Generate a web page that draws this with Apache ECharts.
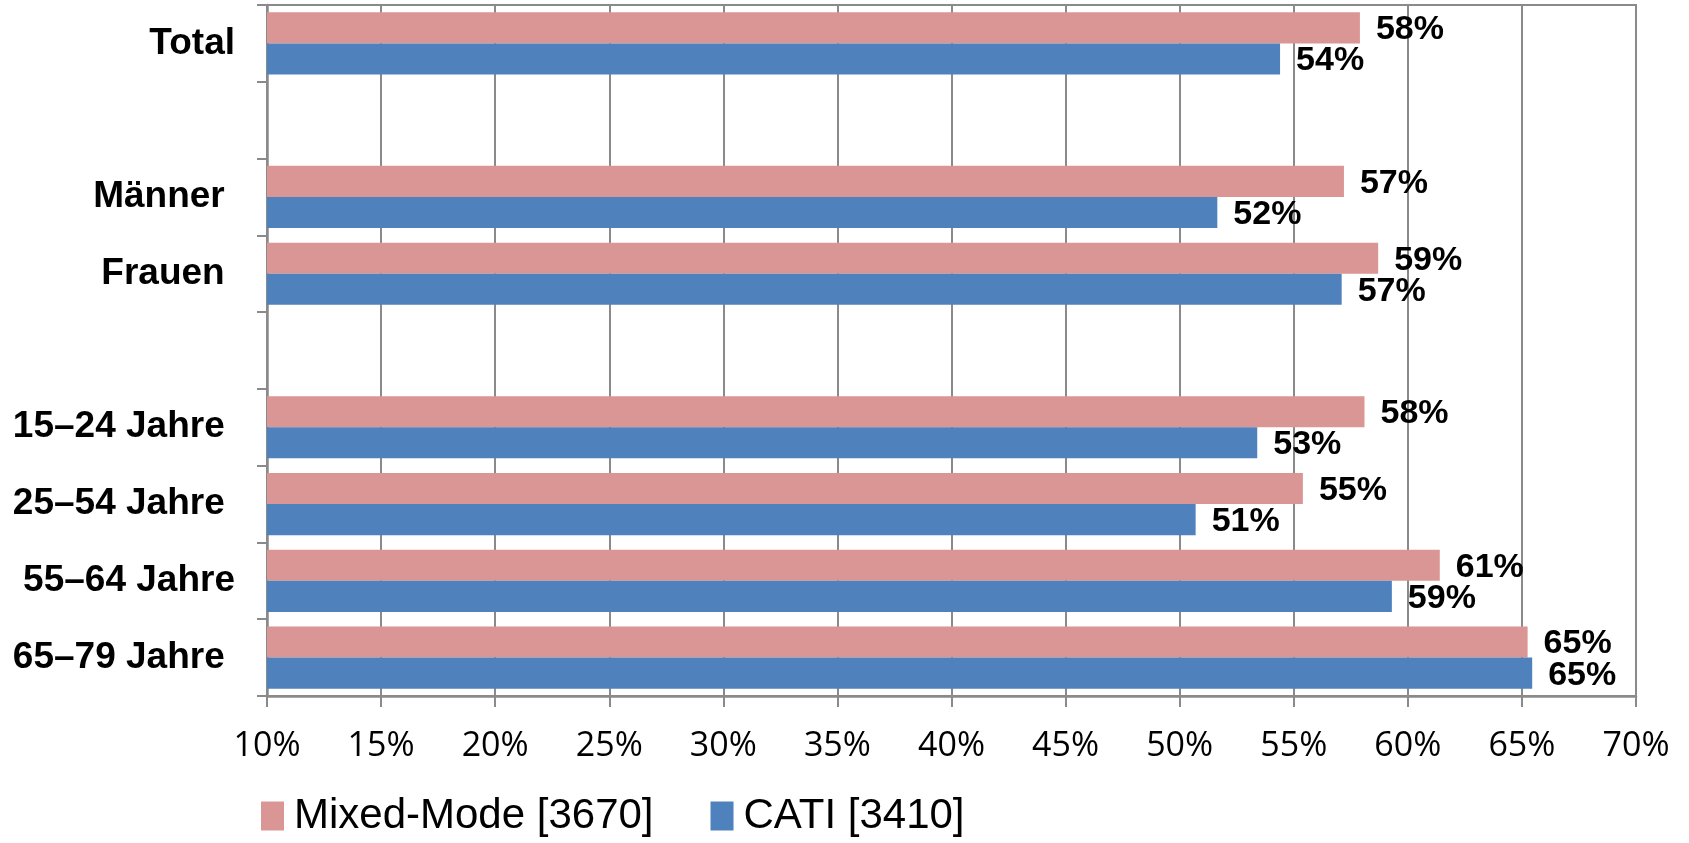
<!DOCTYPE html>
<html>
<head>
<meta charset="utf-8">
<title>Mixed-Mode vs. CATI</title>
<script src="https://cdn.jsdelivr.net/npm/echarts@6/dist/echarts.min.js"></script>
<style>
  html, body { margin: 0; padding: 0; background: #ffffff; }
  #chart { width: 1689px; height: 843px; }
</style>
</head>
<body>
<div id="chart"></div>
<script>
// Row labels (blank rows separate the groups)
const categories = ['Total', '', 'Männer ', 'Frauen ', ' ', '15–24 Jahre ', '25–54 Jahre ', '55–64 Jahre', '65–79 Jahre '];
// Shares in percent
const mixedMode = [57.9, null, 57.2, 58.7, null, 58.1, 55.4, 61.4, 65.25];
const cati      = [54.4, null, 51.65, 57.1, null, 53.4, 50.7, 59.3, 65.45];
const seriesNames = ['Mixed-Mode [3670]', 'CATI [3410]'];
const axisMin = 10, axisMax = 70, axisStep = 5;

const PINK = '#DA9694';
const BLUE = '#4F81BD';
const LINE = '#8a8a8a';

const chart = echarts.init(document.getElementById('chart'), null, { renderer: 'canvas' });

const valueLabel = {
  show: true,
  position: 'right',
  distance: 16,
  offset: [0, 2],
  color: '#000',
  fontFamily: 'Liberation Sans, Arial, sans-serif',
  fontWeight: 'bold',
  fontSize: 34,
  formatter: p => Math.round(p.value) + '%'
};

chart.setOption({
  animation: false,
  backgroundColor: '#ffffff',
  grid: {
    left: 267, right: 53, top: 5, bottom: 147,
    outerBoundsMode: 'none',
    show: true,
    borderColor: LINE,
    borderWidth: 2
  },
  legend: {
    left: 256,
    top: 790,
    itemWidth: 23,
    itemHeight: 29,
    itemGap: 57,
    icon: 'rect',
    textStyle: {
      fontFamily: 'Liberation Sans, Arial, sans-serif',
      fontSize: 42,
      color: '#000',
      padding: [0, 0, 0, 5]
    },
    data: seriesNames
  },
  xAxis: {
    type: 'value',
    min: axisMin,
    max: axisMax,
    interval: axisStep,
    axisLine: { show: true, lineStyle: { color: LINE, width: 2.5 } },
    axisTick: { show: true, length: 11, lineStyle: { color: LINE, width: 2 } },
    splitLine: { show: true, lineStyle: { color: LINE, width: 2 } },
    axisLabel: {
      margin: 33,
      color: '#000',
      fontFamily: 'Open Sans, sans-serif',
      fontSize: 34,
      formatter: '{value}%'
    }
  },
  yAxis: {
    type: 'category',
    inverse: true,
    data: categories,
    axisLine: { show: true, lineStyle: { color: LINE, width: 2.5 } },
    axisTick: { show: true, length: 10, lineStyle: { color: LINE, width: 2 } },
    splitLine: { show: false },
    axisLabel: {
      margin: 32,
      color: '#000',
      fontFamily: 'Liberation Sans, Arial, sans-serif',
      fontWeight: 'bold',
      fontSize: 37,
      padding: [4, 0, 0, 0]
    }
  },
  series: [
    {
      name: seriesNames[0],
      type: 'bar',
      data: mixedMode,
      barGap: '0%',
      barCategoryGap: '19%',
      itemStyle: { color: PINK },
      label: valueLabel
    },
    {
      name: seriesNames[1],
      type: 'bar',
      data: cati,
      barGap: '0%',
      barCategoryGap: '19%',
      itemStyle: { color: BLUE },
      label: valueLabel
    }
  ]
});
</script>
</body>
</html>
